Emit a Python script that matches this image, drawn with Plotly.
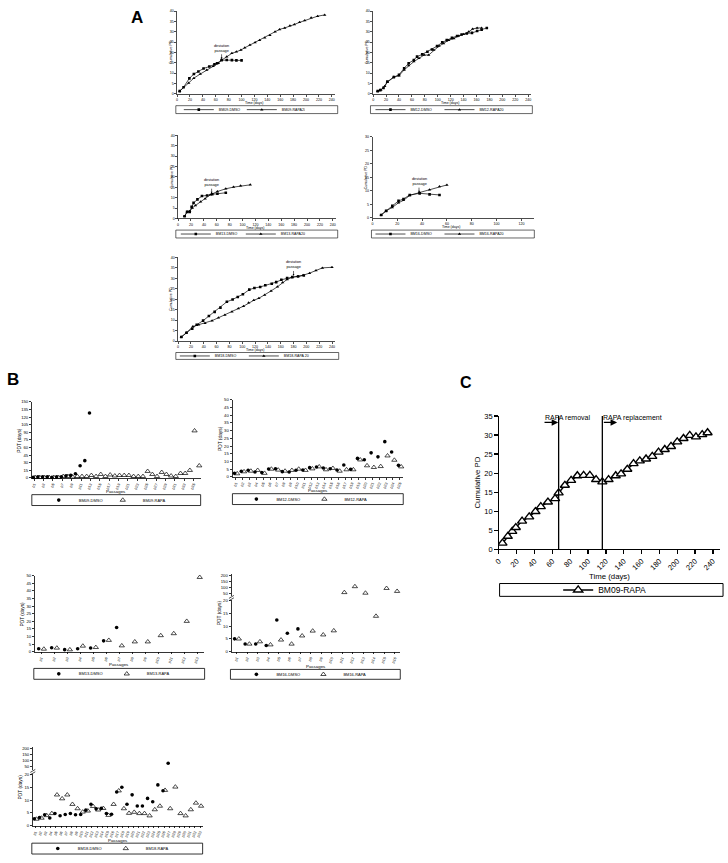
import plotly.graph_objects as go

W, H = 728, 863
FONT = "Liberation Sans, Arial, Helvetica, sans-serif"

# ---------------- Panel A data (cumulative PD vs time in days) ----------------
a1_dmso_day = [4, 10, 19, 26, 33, 41, 50, 58, 62, 69, 77, 85, 92, 100]
a1_dmso_pd = [1.3, 3.2, 7.5, 9.6, 10.8, 12.3, 13.2, 14.3, 14.8, 16.3, 16.4, 16.3, 16.2, 16.2]
a1_rapa_day = [4, 18, 26, 36, 46, 56, 64, 69, 77, 85, 92, 99, 105, 113, 121, 128, 136, 144,
               152, 159, 167, 175, 182, 190, 198, 208, 218, 229]
a1_rapa_pd = [1.3, 5.3, 7.6, 9.6, 11.6, 13.4, 14.8, 16.3, 18.0, 19.6, 20.4, 21.2, 22.3, 23.6,
              24.9, 26.0, 27.1, 28.4, 30.0, 31.2, 31.9, 33.0, 33.6, 34.6, 35.5, 36.8, 37.6, 38.2]

a2_dmso_day = [7, 11, 16, 22, 32, 40, 48, 55, 63, 68, 76, 84, 91, 99, 107, 114, 122, 130,
               137, 145, 153, 161, 168, 176]
a2_dmso_pd = [1.3, 1.8, 2.9, 5.9, 8.1, 9.2, 12.4, 14.8, 16.4, 18.0, 19.1, 20.4, 21.5, 23.1,
              24.9, 26.0, 27.1, 28.0, 28.7, 29.2, 29.5, 30.4, 31.0, 31.9]
a2_rapa_day = [7, 12, 18, 22, 32, 40, 48, 55, 63, 71, 79, 86, 94, 102, 109, 117, 125, 132,
               140, 148, 154, 161, 168]
a2_rapa_pd = [1.3, 1.8, 3.7, 5.6, 8.1, 8.8, 11.6, 13.7, 15.6, 17.2, 18.8, 18.8, 21.2, 23.1,
              24.4, 26.0, 26.8, 28.0, 28.8, 30.0, 31.4, 31.9, 31.9]

a3_dmso_day = [10, 14, 18, 21, 24, 30, 37, 45, 53, 61, 74]
a3_dmso_pd = [1.1, 3.2, 3.2, 5.6, 7.5, 9.2, 10.8, 11.1, 11.7, 11.9, 12.4]
a3_rapa_day = [10, 14, 18, 22, 27, 35, 42, 50, 61, 74, 86, 97, 112]
a3_rapa_pd = [1.1, 3.2, 3.5, 5.1, 6.3, 8.1, 9.5, 11.4, 13.0, 14.3, 15.1, 15.7, 16.2]

a4_dmso_day = [7, 11, 16, 21, 25, 30, 38, 46, 54]
a4_dmso_pd = [1.1, 2.6, 4.5, 6.3, 7.0, 8.5, 9.1, 8.7, 8.5]
a4_rapa_day = [7, 11, 16, 21, 25, 30, 38, 46, 54, 60]
a4_rapa_pd = [1.1, 2.6, 3.9, 5.6, 6.5, 8.3, 9.4, 10.4, 11.6, 12.2]

a5_dmso_day = [5, 13, 22, 29, 39, 48, 57, 66, 76, 85, 93, 101, 111, 119, 128, 136, 146, 153,
               161, 170, 178, 187, 196]
a5_dmso_pd = [2.0, 4.0, 5.9, 7.8, 9.8, 12.0, 14.0, 16.0, 18.8, 19.9, 21.1, 22.4, 24.6, 25.4,
              25.9, 26.7, 27.4, 28.2, 29.3, 30.1, 30.6, 30.9, 31.4]
a5_rapa_day = [5, 13, 23, 32, 42, 53, 63, 73, 84, 94, 102, 110, 118, 126, 135, 145, 155, 163,
               170, 178, 187, 195, 205, 215, 225, 240]
a5_rapa_pd = [2.0, 4.0, 7.0, 7.8, 8.6, 9.8, 11.2, 12.5, 14.0, 15.6, 16.7, 18.3, 19.5, 20.5,
              22.0, 24.0, 26.0, 28.0, 29.5, 30.5, 31.0, 31.5, 32.5, 33.8, 35.0, 35.3]

a_names = [("BM09-DMSO", "BM09-RAPA20"), ("BM12-DMSO", "BM12-RAPA20"),
           ("BM13-DMSO", "BM13-RAPA20"), ("BM16-DMSO", "BM16-RAPA20"),
           ("BM18-DMSO", "BM18-RAPA 20")]
# deviation passage (day, PD at arrow tip) for A1, A3, A4, A5
dev_day = {1: 69, 3: 52, 4: 37.5, 5: 180}
dev_pd = {1: 16.8, 3: 12.0, 4: 9.4, 5: 31.2}

# ---------------- Panel B data (PDT in days per passage) ----------------
b1_dmso = [1, 2, 2, 2, 1, 2, 2, 4, 5, 8, 24, 34, 128]
b1_rapa = [1, 1, 1, 1, 1, 1, 3, 3, 2, 3, 3, 3, 5, 3, 7, 3, 6, 4, 5, 5, 5, 3, 3, 3, 13, 7, 3,
           11, 7, 4, 3, 9, 9, 15, 93, 24]
b2_dmso = [2.3, 3.6, 4.3, 3.2, 2.8, 5.1, 5.3, 3.4, 3.2, 4.3, 4.5, 6.0, 6.4, 5.8, 5.3, 4.5, 7.7,
           4.9, 12.0, 11.1, 15.6, 13.0, 22.9, 16.2, 7.5]
b2_rapa = [2.1, 3.4, 3.8, 4.3, 2.4, 5.1, 4.5, 3.8, 4.3, 5.1, 4.3, 5.3, 6.6, 4.7, 5.6, 3.8, 4.7,
           4.7, 11.1, 7.3, 6.2, 6.8, 13.7, 10.9, 6.6]
b3_dmso = [1.9, 2.6, 1.3, 1.9, 2.4, 7.1, 15.9]
b3_rapa = [1.7, 2.4, 1.3, 3.7, 2.8, 7.5, 3.9, 6.5, 6.5, 10.6, 11.9, 20.0, 48.9]
b4_dmso = [5.0, 3.0, 3.0, 2.4, 12.4, 7.2, 8.9]
b4_rapa = [5.0, 3.0, 3.9, 2.7, 4.6, 3.0, 6.2, 8.1, 6.6, 8.2, 55, 105, 50, 13.9, 90, 65]
b5_dmso = [2.7, 3.2, 4.3, 3.0, 4.8, 3.9, 4.4, 4.8, 4.3, 4.4, 6.1, 8.4, 6.6, 6.8, 4.8, 4.5, 13.2,
           15.1, 8.4, 12.1, 7.7, 7.7, 10.7, 9.4, 16.0, 13.7, 80]
b5_rapa = [2.6, 3.0, 4.0, 4.8, 12.1, 10.6, 12.1, 8.4, 6.7, 5.4, 5.8, 7.6, 6.2, 6.8, 4.1, 8.4,
           13.7, 6.7, 4.9, 5.3, 4.8, 4.8, 3.9, 6.3, 7.7, 13.9, 6.7, 15.2, 4.8, 3.9, 6.3, 8.9, 7.7]

# ---------------- Panel C data ----------------
c_day = [4, 10, 15, 19, 26, 34, 41, 47, 55, 63, 67, 74, 81, 88, 95, 102, 109, 116, 123, 131,
         137, 144, 151, 158, 165, 172, 179, 186, 193, 200, 207, 214, 221, 228, 234]
c_pd = [1.6, 3.4, 4.7, 5.7, 7.4, 8.5, 9.9, 11.2, 12.4, 13.3, 14.8, 16.8, 18.1, 19.3, 19.4,
        19.4, 18.3, 17.7, 18.3, 19.3, 19.8, 21.0, 22.5, 23.2, 23.7, 24.4, 25.5, 26.2, 27.0,
        28.2, 29.1, 29.9, 29.5, 30.1, 30.6]
c_event_day = [67, 116]
c_event_label = ["RAPA removal", "RAPA replacement"]

# ----------------------------------------------------------------------------
fig = go.Figure()
layout = dict(width=W, height=H, margin=dict(l=0, r=0, t=0, b=0), autosize=False,
              paper_bgcolor="white", plot_bgcolor="white",
              font=dict(family=FONT, color="black"),
              scattermode="group", scattergap=0.2, showlegend=True)
annotations, shapes = [], []


def dx(p0, p1):
    return [p0 / W, p1 / W]


def dy(top, bot):
    return [1 - bot / H, 1 - top / H]


def axis(dom, rng, anchor, fs, lw=0.7, tl=2, **kw):
    d = dict(domain=dom, range=rng, anchor=anchor, showline=True, linecolor="black",
             linewidth=lw, ticks="outside", ticklen=tl, tickwidth=lw, tickcolor="black",
             tickfont=dict(size=fs, family=FONT, color="black"), showgrid=False,
             zeroline=False, fixedrange=True)
    d.update(kw)
    return d


def text(x, y, s, size, angle=0, xanchor="center"):
    annotations.append(dict(x=x / W, y=1 - y / H, xref="paper", yref="paper", text=s,
                            showarrow=False, textangle=angle, xanchor=xanchor,
                            yanchor="middle", font=dict(size=size, family=FONT,
                                                        color="black")))


def legend(left, cy, fs, ew):
    return dict(x=left / W, y=1 - cy / H, xanchor="left", yanchor="middle",
                orientation="h", bgcolor="rgba(0,0,0,0)", borderwidth=0,
                font=dict(size=fs, family=FONT, color="black"), entrywidth=ew,
                entrywidthmode="pixels", itemclick=False, itemdoubleclick=False,
                tracegroupgap=0, itemwidth=30)


def box(x0, x1, y0, y1, lw=0.8):
    shapes.append(dict(type="rect", xref="paper", yref="paper", x0=x0 / W, x1=x1 / W,
                       y0=1 - y1 / H, y1=1 - y0 / H, line=dict(color="black", width=lw)))


def brk(xp, yp):
    # small double-slash axis-break mark on a y axis at pixel (xp, yp)
    for off in (-1.2, 1.2):
        shapes.append(dict(type="line", xref="paper", yref="paper",
                           x0=(xp - 2.5) / W, x1=(xp + 2.5) / W,
                           y0=1 - (yp + off + 1.5) / H, y1=1 - (yp + off - 1.5) / H,
                           line=dict(color="black", width=0.7)))


# ---------------- Panel A ----------------
a_data = [(a1_dmso_day, a1_dmso_pd, a1_rapa_day, a1_rapa_pd),
          (a2_dmso_day, a2_dmso_pd, a2_rapa_day, a2_rapa_pd),
          (a3_dmso_day, a3_dmso_pd, a3_rapa_day, a3_rapa_pd),
          (a4_dmso_day, a4_dmso_pd, a4_rapa_day, a4_rapa_pd),
          (a5_dmso_day, a5_dmso_pd, a5_rapa_day, a5_rapa_pd)]
# (x0 px, x1 px, xmax, y top px, y bottom px, ymax, legend box, legend text starts)
a_geo = [(173.3, 332.3, 245, 7.3, 91, 40, (172, 335, 103, 111), (215, 273)),
         (370.7, 530.0, 245, 7.3, 91, 40, (368, 531, 103, 111), (408, 472)),
         (174.3, 333.3, 245, 133, 217.3, 40, (172, 335, 229, 237), (212, 272)),
         (370.0, 532.5, 130, 134.5, 216.7, 30, (369, 533, 229, 237), (408, 472)),
         (174.3, 332.5, 245, 256.7, 341.5, 40, (172, 336, 353, 360), (211, 275))]

for i, (geo, dat, nm) in enumerate(zip(a_geo, a_data, a_names), start=1):
    x0, x1, xmax, yt, yb, ymax, lb, ts = geo
    sfx = "" if i == 1 else str(i)
    lg = "legend" if i == 1 else "legend%d" % i
    layout["xaxis" + sfx] = axis(dx(x0, x1), [0, xmax], "y" + sfx, 3.6, dtick=20, tick0=0)
    layout["yaxis" + sfx] = axis(dy(yt, yb), [0, ymax], "x" + sfx, 3.6, dtick=5, tick0=0)
    dd, dp, rd, rp = dat
    fig.add_trace(go.Scatter(x=dd, y=dp, mode="lines+markers", name=nm[0],
                             xaxis="x" + sfx, yaxis="y" + sfx, legend=lg, offsetgroup="a",
                             line=dict(color="black", width=0.7),
                             marker=dict(symbol="square", size=2.6, color="black")))
    fig.add_trace(go.Scatter(x=rd, y=rp, mode="lines+markers", name=nm[1],
                             xaxis="x" + sfx, yaxis="y" + sfx, legend=lg, offsetgroup="a",
                             line=dict(color="black", width=0.7),
                             marker=dict(symbol="triangle-up", size=3, color="black")))
    layout[lg] = legend(ts[0] - 40, (lb[2] + lb[3]) / 2, 3.6, ts[1] - ts[0] - 40)
    box(*lb, lw=0.6)
    text(x0 - 6.6, (yt + yb) / 2, "Cumulative PD", 3.5, angle=-90)
    text((x0 + x1) / 2 - 2, yb + 9.3, "Time (days)", 3.5)
    if i in dev_day:
        span = ymax / (yb - yt)  # PD per pixel
        annotations.append(dict(x=dev_day[i], y=dev_pd[i], xref="x" + sfx, yref="y" + sfx,
                                ax=dev_day[i], ay=dev_pd[i] + 11 * span, axref="x" + sfx,
                                ayref="y" + sfx, text="deviation<br>passage",
                                showarrow=True, arrowhead=2, arrowsize=0.6, arrowwidth=0.6,
                                arrowcolor="black", font=dict(size=3.8, family=FONT)))

text(133, 14, "<b>A</b>", 17)

# ---------------- Panel B ----------------
b_sets = [("BM09", b1_dmso, b1_rapa, 6, (27, 197), (403, 480), 150, 15, (27, 197, 497, 508),
           (74, 133)),
          ("BM12", b2_dmso, b2_rapa, 7, (229, 401), (401, 479), 50, 5, (229, 401, 496, 507),
           (273, 336)),
          ("BM13", b3_dmso, b3_rapa, 8, (30, 200), (579, 656), 50, 5, (29, 201, 673, 684),
           (74, 137))]
b_break = [("BM16", b4_dmso, b4_rapa, 9, 10, (228, 398), (603.5, 656), 20.3, (577, 600),
            [22, 214], (227, 398, 674, 684), (273, 335)),
           ("BM18", b5_dmso, b5_rapa, 11, 12, (28, 199), (780, 832.3), 20.25, (753, 776),
            [23, 210.6], (27, 199, 850, 861), (73, 136))]

dmso_marker = dict(symbol="circle", size=3.6, color="black")
rapa_marker = dict(symbol="triangle-up-open", size=4.6, color="black", line=dict(width=0.7))
legend_idx = 6


def b_trace(cats, vals, name, xa, ya, lg, grp, mk, show=True):
    return go.Scatter(x=cats[:len(vals)], y=vals, mode="markers", name=name, xaxis=xa,
                      yaxis=ya, legend=lg, marker=mk, orientation="v", offsetgroup=grp,
                      alignmentgroup=xa, showlegend=show, cliponaxis=False)


for name, dm, rp, k, (x0, x1), (yt, yb), ymax, dt, lb, ts in b_sets:
    n = len(rp)
    cats = ["p%d" % (j + 1) for j in range(n)]
    lg = "legend%d" % legend_idx
    legend_idx += 1
    layout["xaxis%d" % k] = axis(dx(x0, x1), [-0.5, n - 0.5], "y%d" % k, 3.8, lw=0.8,
                                 type="category", tickangle=-65, categoryorder="array",
                                 categoryarray=cats)
    layout["yaxis%d" % k] = axis(dy(yt, yb), [0, ymax], "x%d" % k, 4.2, lw=0.8, dtick=dt,
                                 tick0=0)
    fig.add_trace(b_trace(cats, dm, name + "-DMSO", "x%d" % k, "y%d" % k, lg, "d", dmso_marker))
    fig.add_trace(b_trace(cats, rp, name + "-RAPA", "x%d" % k, "y%d" % k, lg, "r", rapa_marker))
    layout[lg] = legend(ts[0] - 40, (lb[2] + lb[3]) / 2, 4.0, ts[1] - ts[0] - 40)
    box(*lb)
    text(x0 - 12, (yt + yb) / 2, "PDT (days)", 4.8, angle=-90)
    text((x0 + x1) / 2, yb + 13.5, "Passages", 4.4)

for name, dm, rp, k, kt, (x0, x1), (yt, yb), ymax, (tt, tb), trng, lb, ts in b_break:
    n = len(rp)
    cats = ["p%d" % (j + 1) for j in range(n)]
    lg = "legend%d" % legend_idx
    legend_idx += 1
    layout["xaxis%d" % k] = axis(dx(x0, x1), [-0.5, n - 0.5], "y%d" % k, 3.8, lw=0.8,
                                 type="category", tickangle=-65, categoryorder="array",
                                 categoryarray=cats)
    layout["yaxis%d" % k] = axis(dy(yt, yb), [0, ymax], "x%d" % k, 4.2, lw=0.8, dtick=5,
                                 tick0=0)
    layout["yaxis%d" % kt] = axis(dy(tt, tb), trng, "x%d" % k, 4.2, lw=0.8,
                                  tickvals=[50, 100, 150, 200])
    lo_d = [v if v <= 20 else None for v in dm]
    hi_d = [v if v > 20 else None for v in dm]
    lo_r = [v if v <= 20 else None for v in rp]
    hi_r = [v if v > 20 else None for v in rp]
    fig.add_trace(b_trace(cats, lo_d, name + "-DMSO", "x%d" % k, "y%d" % k, lg, "d", dmso_marker))
    fig.add_trace(b_trace(cats, lo_r, name + "-RAPA", "x%d" % k, "y%d" % k, lg, "r", rapa_marker))
    fig.add_trace(b_trace(cats, hi_d, name + "-DMSO", "x%d" % k, "y%d" % kt, lg, "d",
                          dmso_marker, show=False))
    fig.add_trace(b_trace(cats, hi_r, name + "-RAPA", "x%d" % k, "y%d" % kt, lg, "r",
                          rapa_marker, show=False))
    layout[lg] = legend(ts[0] - 40, (lb[2] + lb[3]) / 2, 4.0, ts[1] - ts[0] - 40)
    box(*lb)
    brk(x0, (tb + yt) / 2)
    text(x0 - 12, (tt + yb) / 2, "PDT (days)", 4.8, angle=-90)
    text((x0 + x1) / 2, yb + 15, "Passages", 4.4)

text(8, 380, "<b>B</b>", 17)

# ---------------- Panel C ----------------
layout["xaxis13"] = axis(dx(497.3, 720), [0, 248], "y13", 7.5, lw=1.2, tl=3.5, dtick=20,
                         tick0=0, tickangle=-45)
layout["yaxis13"] = axis(dy(417.3, 552.3), [0, 35], "x13", 7.5, lw=1.2, tl=3.5, dtick=5,
                         tick0=0)
fig.add_trace(go.Scatter(x=c_day, y=c_pd, mode="lines+markers", name="BM09-RAPA",
                         xaxis="x13", yaxis="y13", legend="legend11", offsetgroup="c",
                         line=dict(color="black", width=1.5),
                         marker=dict(symbol="triangle-up", size=8, color="white",
                                     line=dict(color="black", width=1.4))))
layout["legend11"] = legend(557, 593.5, 8.5, 0)
box(498, 723, 587, 600, lw=1)
for d, lab in zip(c_event_day, c_event_label):
    shapes.append(dict(type="line", xref="x13", yref="y13", x0=d, x1=d, y0=0, y1=35,
                       line=dict(color="black", width=1.3)))
# removal arrow points right into the removal line; replacement arrow leaves its line
annotations.append(dict(x=c_event_day[0] - 0.5, y=33.3, ax=c_event_day[0] - 17.5, ay=33.3,
                        xref="x13", yref="y13", axref="x13", ayref="y13", text="",
                        showarrow=True, arrowhead=2, arrowsize=1, arrowwidth=1.3,
                        arrowcolor="black"))
annotations.append(dict(x=c_event_day[1] + 16.5, y=33.3, ax=c_event_day[1], ay=33.3,
                        xref="x13", yref="y13", axref="x13", ayref="y13", text="",
                        showarrow=True, arrowhead=2, arrowsize=1, arrowwidth=1.3,
                        arrowcolor="black"))
annotations.append(dict(x=c_event_day[0] - 18, y=34.5, xref="x13", yref="y13",
                        text=c_event_label[0], showarrow=False, xanchor="left",
                        yanchor="middle", font=dict(size=7, family=FONT)))
annotations.append(dict(x=c_event_day[1] - 1.5, y=34.5, xref="x13", yref="y13",
                        text=c_event_label[1], showarrow=False, xanchor="left",
                        yanchor="middle", font=dict(size=7, family=FONT)))
text(476, 485, "Cumulative PD", 7.8, angle=-90)
text(609, 580, "Time (days)", 7.8)
text(464, 383, "<b>C</b>", 16)

layout["annotations"] = annotations
layout["shapes"] = shapes
fig.update_layout(**layout)
fig.write_html("out.html", config={"displayModeBar": False, "staticPlot": True},
               post_script="document.body.style.margin='0px';"
                           "document.body.style.overflow='hidden';")
